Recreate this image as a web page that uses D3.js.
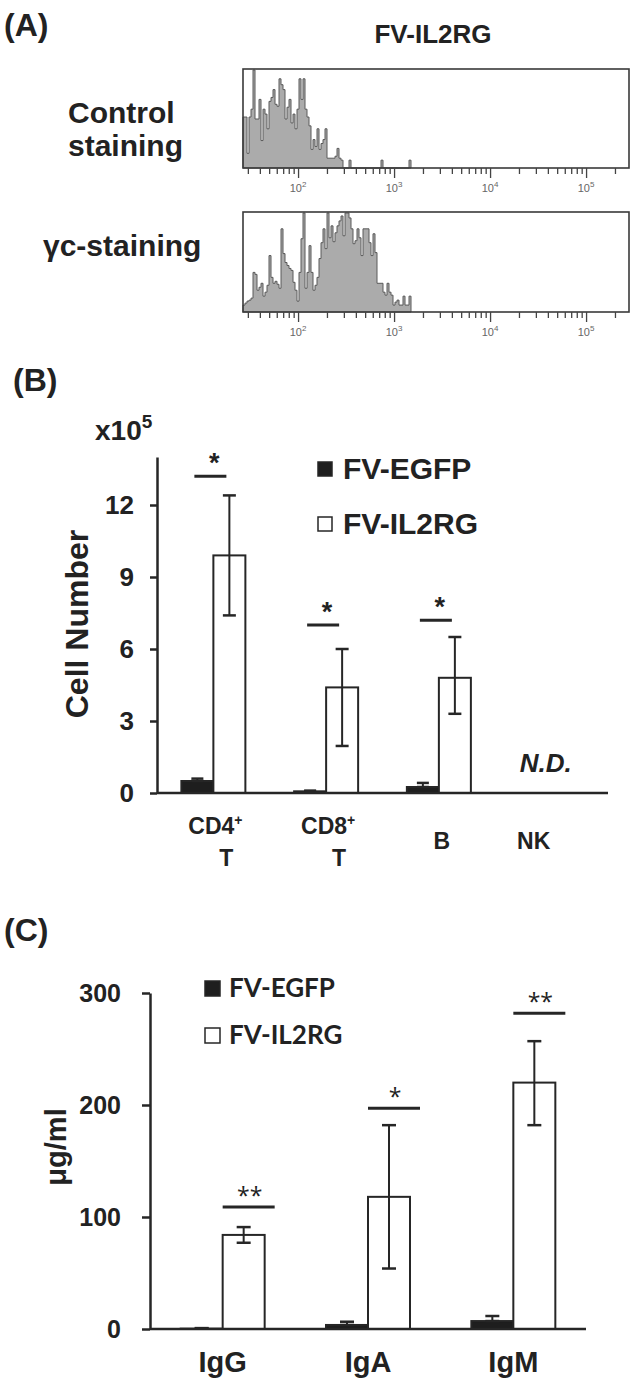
<!DOCTYPE html>
<html>
<head>
<meta charset="utf-8">
<script src="https://cdn.jsdelivr.net/npm/d3@7/dist/d3.min.js"></script>
<style>
body { margin: 0; background: #fff; }
text { font-family: "Liberation Sans", Arial, sans-serif; fill: #222; }
</style>
</head>
<body>
<svg id="fig" width="636" height="1388"></svg>
<script>
// ---- panel A: flow histograms, counts in % of max, one value per channel (48 channels / decade)
var histStart = 26.7;
var chPerDecade = 48;
var ctrlCounts = [52,52,15,52,60,100,50,50,70,28,60,55,40,68,72,80,65,63,91,85,80,50,62,70,46,55,40,60,91,70,
	91,60,52,43,19,29,22,40,19,25,29,40,10,10,10,10,12,20,10,8,0,0,0,8,0,0,0,0,0,0,
	0,0,0,0,0,0,0,0,0,8,0,0,0,0,0,0,0,0,0,0,0,0,0,8];
var gcCounts = [7,9,11,12,14,40,38,22,25,29,16,20,27,57,35,29,31,28,24,84,59,50,47,44,42,30,22,11,40,74,
	100,24,40,67,40,22,27,35,54,70,84,64,100,75,87,71,80,87,92,97,77,100,100,95,84,69,72,84,75,57,
	84,84,84,70,57,79,60,29,29,29,20,17,29,20,17,7,10,12,7,7,16,7,7,16];
var histTicks = [30,40,50,60,70,80,90,100,200,300,400,500,600,700,800,900,1000,2000,3000,4000,5000,6000,7000,8000,9000,
	10000,20000,30000,40000,50000,60000,70000,80000,90000,100000,200000];
var histDecades = [100,1000,10000,100000];

// ---- panel B: cell numbers (x10^5)
var series = ["FV-EGFP","FV-IL2RG"];
var cellTypes = ["CD4+ T","CD8+ T","B","NK"];
var egfpCells = [0.5,0.07,0.25,null];
var egfpCellsHi = [0.6,0.1,0.42,null];
var il2rgCells = [9.9,4.4,4.8,null];
var il2rgCellsLo = [7.4,1.96,3.3,null];
var il2rgCellsHi = [12.4,6.0,6.5,null];
var sigCells = [13.2,7.0,7.2,null];
var sigCellsText = ["*","*","*",null];
var cellTicks = [0,3,6,9,12];

// ---- panel C: immunoglobulins (ug/ml)
var isotypes = ["IgG","IgA","IgM"];
var egfpIg = [0.3,3.6,7.1];
var egfpIgHi = [0.8,6.5,11.6];
var il2rgIg = [84,118,220];
var il2rgIgLo = [77,54,182];
var il2rgIgHi = [91,182,257];
var sigIg = [109,197,282];
var sigIgText = ["**","*","**"];
var igTicks = [0,100,200,300];

var svg = d3.select("#fig");
var ink = "#262626";

// ================= (A)
svg.append("text").attr("x", 4).attr("y", 36).attr("font-size", 32).attr("font-weight", "bold").text("(A)");
svg.append("text").attr("x", 433).attr("y", 43).attr("text-anchor", "middle")
	.attr("font-size", 26).attr("font-weight", "bold").text("FV-IL2RG");

var xH = d3.scaleLog().domain([26.7, 2.8e5]).range([243, 629]);

function drawHist(counts, top, bottom) {
	var y = d3.scaleLinear().domain([0, 100]).range([bottom, top + 1]);
	var pts = counts.map(function (c, i) {
		return {f: histStart * Math.pow(10, i / chPerDecade), c: c};
	});
	pts.push({f: histStart * Math.pow(10, counts.length / chPerDecade), c: 0});

	var g = svg.append("g");
	g.append("path").datum(pts)
		.attr("d", d3.area()
			.x(function (d) { return xH(d.f); })
			.y0(bottom)
			.y1(function (d) { return y(d.c); })
			.curve(d3.curveStepAfter))
		.attr("fill", "#ababab")
		.attr("stroke", "#5a5a5a")
		.attr("stroke-width", 1);

	g.append("rect")
		.attr("x", xH.range()[0]).attr("y", top)
		.attr("width", xH.range()[1] - xH.range()[0]).attr("height", bottom - top)
		.attr("fill", "none").attr("stroke", "#3a3a3a").attr("stroke-width", 1.6);

	var ax = g.append("g").attr("transform", "translate(0," + bottom + ")")
		.call(d3.axisBottom(xH).tickValues(histTicks).tickSize(6).tickFormat(""));
	ax.select(".domain").remove();
	ax.selectAll(".tick line").attr("stroke", "#444").attr("stroke-width", 1.3)
		.attr("y2", function (d) { return histDecades.indexOf(d) >= 0 ? 10 : 6; });

	var lab = g.selectAll(".hlab").data(histDecades).enter().append("text")
		.attr("x", function (d) { return xH(d); })
		.attr("y", bottom + 24)
		.attr("text-anchor", "middle")
		.attr("font-size", 11)
		.style("fill", "#666");
	lab.append("tspan").text("10");
	lab.append("tspan").attr("dy", -5).attr("font-size", 8)
		.text(function (d) { return Math.round(Math.log10(d)); });
}

drawHist(ctrlCounts, 69, 168);
drawHist(gcCounts, 212, 312);

svg.append("text").attr("x", 68).attr("y", 123).attr("font-size", 30).attr("font-weight", "bold").text("Control");
svg.append("text").attr("x", 68).attr("y", 156).attr("font-size", 30).attr("font-weight", "bold").text("staining");
svg.append("text").attr("x", 43).attr("y", 256).attr("font-size", 30).attr("font-weight", "bold").text("γc-staining");

// ================= (B)
svg.append("text").attr("x", 13).attr("y", 391).attr("font-size", 32).attr("font-weight", "bold").text("(B)");

var yB = d3.scaleLinear().domain([0, 14]).range([793, 457]);
var xB = d3.scaleBand().domain(cellTypes).range([157, 608]);
var sB = d3.scaleBand().domain(series).range([0, 64]);
var offB = (xB.bandwidth() - 64) / 2;

var gB = svg.append("g");

var unit = gB.append("text").attr("x", 95).attr("y", 440).attr("font-size", 28).attr("font-weight", "bold");
unit.append("tspan").text("x10");
unit.append("tspan").attr("dy", -12).attr("font-size", 19).text("5");

gB.append("text").attr("transform", "translate(88,624) rotate(-90)")
	.attr("text-anchor", "middle").attr("font-size", 32).attr("font-weight", "bold").text("Cell Number");

function drawBars(g, xs, sc, off, yS, cats, vals, name, fill) {
	g.selectAll(".bar-" + fill.replace("#", "")).data(cats.filter(function (c, i) { return vals[i] != null; }))
		.enter().append("rect")
		.attr("x", function (c) { return xs(c) + off + sc(name); })
		.attr("y", function (c) { return yS(vals[cats.indexOf(c)]); })
		.attr("width", sc.bandwidth())
		.attr("height", function (c) { return yS(0) - yS(vals[cats.indexOf(c)]); })
		.attr("fill", fill)
		.attr("stroke", ink)
		.attr("stroke-width", 2);
}

function drawErr(g, xs, sc, off, yS, cats, lo, hi, name, cap) {
	cats.forEach(function (c, i) {
		if (hi[i] == null) return;
		var cx = xs(c) + off + sc(name) + sc.bandwidth() / 2;
		g.append("line").attr("x1", cx).attr("x2", cx).attr("y1", yS(lo[i])).attr("y2", yS(hi[i]))
			.attr("stroke", ink).attr("stroke-width", 2);
		g.append("line").attr("x1", cx - cap / 2).attr("x2", cx + cap / 2).attr("y1", yS(hi[i])).attr("y2", yS(hi[i]))
			.attr("stroke", ink).attr("stroke-width", 2.5);
		g.append("line").attr("x1", cx - cap / 2).attr("x2", cx + cap / 2).attr("y1", yS(lo[i])).attr("y2", yS(lo[i]))
			.attr("stroke", ink).attr("stroke-width", 2.5);
	});
}

drawBars(gB, xB, sB, offB, yB, cellTypes, egfpCells, "FV-EGFP", "#1e1e1e");
drawBars(gB, xB, sB, offB, yB, cellTypes, il2rgCells, "FV-IL2RG", "#fff");
drawErr(gB, xB, sB, offB, yB, cellTypes, egfpCells, egfpCellsHi, "FV-EGFP", 12);
drawErr(gB, xB, sB, offB, yB, cellTypes, il2rgCellsLo, il2rgCellsHi, "FV-IL2RG", 13);

// significance marks
cellTypes.forEach(function (c, i) {
	if (sigCells[i] == null) return;
	var cx = xB(c) + xB.bandwidth() / 2 - 3;
	gB.append("line").attr("x1", cx - 16).attr("x2", cx + 16).attr("y1", yB(sigCells[i])).attr("y2", yB(sigCells[i]))
		.attr("stroke", ink).attr("stroke-width", 3);
	gB.append("text").attr("x", cx + 4).attr("y", yB(sigCells[i]) - 4).attr("text-anchor", "middle")
		.attr("font-size", 27).attr("font-weight", "bold").text(sigCellsText[i]);
});

gB.append("text").attr("x", xB("NK") + xB.bandwidth() / 2 - 6).attr("y", 772).attr("text-anchor", "middle")
	.attr("font-size", 26).attr("font-weight", "bold").attr("font-style", "italic").text("N.D.");

var ayB = gB.append("g").attr("transform", "translate(157,0)")
	.call(d3.axisLeft(yB).tickValues(cellTicks).tickSize(7).tickSizeOuter(0).tickPadding(16));
ayB.selectAll("path, line").attr("stroke", ink).attr("stroke-width", 2.5);
ayB.selectAll("text").attr("font-size", 26).attr("font-weight", "bold").style("font-family", "Liberation Sans, Arial, sans-serif").attr("fill", "#222");

gB.append("line").attr("x1", xB.range()[0]).attr("x2", xB.range()[1]).attr("y1", yB(0)).attr("y2", yB(0))
	.attr("stroke", ink).attr("stroke-width", 2.5);

// category labels
var labB = gB.selectAll(".catB").data(cellTypes).enter().append("g")
	.attr("transform", function (c) { return "translate(" + (xB(c) + xB.bandwidth() / 2) + ",0)"; });
labB.each(function (c) {
	var g = d3.select(this);
	var parts = c.split(" ");
	if (parts.length === 2) {
		var t = g.append("text").attr("x", 2).attr("y", 834).attr("text-anchor", "middle")
			.attr("font-size", 23).attr("font-weight", "bold");
		t.append("tspan").text(parts[0].replace("+", ""));
		t.append("tspan").attr("dy", -9).attr("font-size", 14).text("+");
		g.append("text").attr("x", 13).attr("y", 866).attr("text-anchor", "middle")
			.attr("font-size", 23).attr("font-weight", "bold").text(parts[1]);
	} else {
		g.append("text").attr("x", c === "NK" ? -18 : 3).attr("y", 849).attr("text-anchor", "middle")
			.attr("font-size", 23).attr("font-weight", "bold").text(c);
	}
});

// legend B
var legB = gB.selectAll(".legB").data(series).enter().append("g")
	.attr("transform", function (d, i) { return "translate(318," + (462 + i * 55) + ")"; });
legB.append("rect").attr("width", 14).attr("height", 14)
	.attr("fill", function (d, i) { return i ? "#fff" : "#1e1e1e"; })
	.attr("stroke", ink).attr("stroke-width", 1.5);
legB.append("text").attr("x", 25).attr("y", 17).attr("font-size", 30).attr("font-weight", "bold")
	.text(function (d) { return d; });

// ================= (C)
svg.append("text").attr("x", 4).attr("y", 941).attr("font-size", 32).attr("font-weight", "bold").text("(C)");

var yC = d3.scaleLinear().domain([0, 300]).range([1329, 993]);
var xC = d3.scaleBand().domain(isotypes).range([150, 586]);
var sC = d3.scaleBand().domain(series).range([0, 84]);
var offC = (xC.bandwidth() - 84) / 2;

var gC = svg.append("g");

gC.append("text").attr("transform", "translate(66,1147) rotate(-90)")
	.attr("text-anchor", "middle").attr("font-size", 29).attr("font-weight", "bold").text("μg/ml");

drawBars(gC, xC, sC, offC, yC, isotypes, egfpIg, "FV-EGFP", "#1e1e1e");
drawBars(gC, xC, sC, offC, yC, isotypes, il2rgIg, "FV-IL2RG", "#fff");
drawErr(gC, xC, sC, offC, yC, isotypes, egfpIg, egfpIgHi, "FV-EGFP", 14);
drawErr(gC, xC, sC, offC, yC, isotypes, il2rgIgLo, il2rgIgHi, "FV-IL2RG", 14);

isotypes.forEach(function (c, i) {
	var cx = xC(c) + offC + sC("FV-IL2RG") + sC.bandwidth() / 2 + 5;
	gC.append("line").attr("x1", cx - 26).attr("x2", cx + 26).attr("y1", yC(sigIg[i])).attr("y2", yC(sigIg[i]))
		.attr("stroke", ink).attr("stroke-width", 3);
	gC.append("text").attr("x", cx + 1).attr("y", yC(sigIg[i]) - 3).attr("text-anchor", "middle")
		.attr("font-size", 23).style("font-family", "'Open Sans', sans-serif").text(sigIgText[i]);
});

var ayC = gC.append("g").attr("transform", "translate(150,0)")
	.call(d3.axisLeft(yC).tickValues(igTicks).tickSize(8).tickSizeOuter(0).tickPadding(21));
ayC.selectAll("path, line").attr("stroke", ink).attr("stroke-width", 2.5);
ayC.selectAll("text").attr("font-size", 25).attr("font-weight", "bold").style("font-family", "Liberation Sans, Arial, sans-serif").attr("fill", "#222");

gC.append("line").attr("x1", xC.range()[0]).attr("x2", xC.range()[1]).attr("y1", yC(0)).attr("y2", yC(0))
	.attr("stroke", ink).attr("stroke-width", 2.5);

gC.selectAll(".catC").data(isotypes).enter().append("text")
	.attr("x", function (c) { return xC(c) + xC.bandwidth() / 2; })
	.attr("y", 1372).attr("text-anchor", "middle")
	.attr("font-size", 29).attr("font-weight", "bold")
	.text(function (c) { return c; });

var legC = gC.selectAll(".legC").data(series).enter().append("g")
	.attr("transform", function (d, i) { return "translate(205," + (981 + i * 47) + ")"; });
legC.append("rect").attr("width", 15).attr("height", 15)
	.attr("fill", function (d, i) { return i ? "#fff" : "#1e1e1e"; })
	.attr("stroke", ink).attr("stroke-width", 1.5);
legC.append("text").attr("x", 24).attr("y", 16).attr("font-size", 26).attr("font-weight", "bold")
	.style("font-family", "Lato, 'Open Sans', sans-serif")
	.text(function (d) { return d; });
</script>
</body>
</html>
